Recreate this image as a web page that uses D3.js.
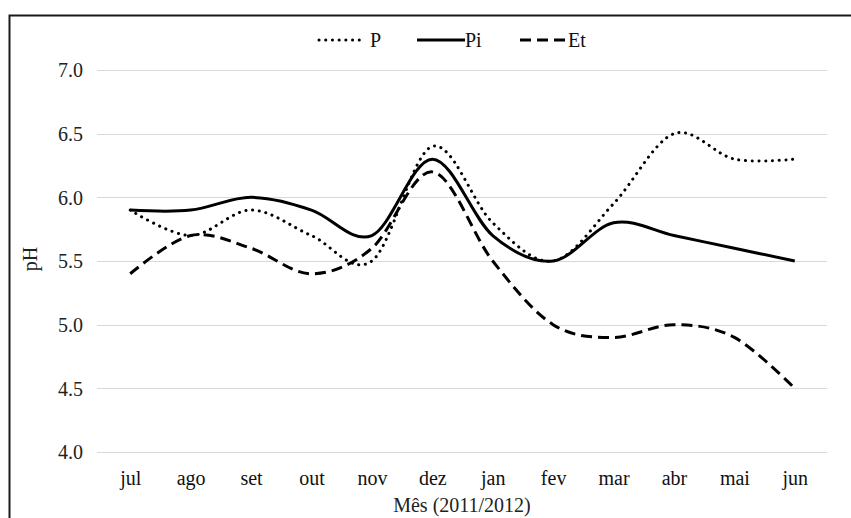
<!DOCTYPE html>
<html><head><meta charset="utf-8">
<script src="https://cdn.jsdelivr.net/npm/d3@7"></script>
<style>body{margin:0;background:#fff}svg{display:block}
svg text{font-family:"Liberation Serif","Times New Roman","DejaVu Serif",serif;}</style>
</head><body>
<svg id="c" width="851" height="518"></svg>
<script>
const months = ["jul","ago","set","out","nov","dez","jan","fev","mar","abr","mai","jun"];
const P  = [5.9, 5.7, 5.9, 5.7, 5.5, 6.4, 5.8, 5.5, 5.95, 6.5, 6.3, 6.3];
const Pi = [5.9, 5.9, 6.0, 5.9, 5.7, 6.3, 5.7, 5.5, 5.8, 5.7, 5.6, 5.5];
const Et = [5.4, 5.7, 5.6, 5.4, 5.6, 6.2, 5.5, 5.0, 4.9, 5.0, 4.9, 4.5];
const yTicks = [4.0, 4.5, 5.0, 5.5, 6.0, 6.5, 7.0];
const seriesNames = ["P", "Pi", "Et"];

const svg = d3.select("#c");
const font = '"Liberation Serif","Times New Roman","DejaVu Serif",serif';
const fs = 20;
const m = {left: 100, right: 825, top: 70, bottom: 452};

// frame
svg.append("path").attr("d", "M9.5,520 L9.5,15.5 L860,15.5")
  .attr("fill","none").attr("stroke","#1a1a1a").attr("stroke-width",2);

const x = d3.scalePoint().domain(months).range([m.left, m.right]).padding(0.5);
const y = d3.scaleLinear().domain([4, 7]).range([m.bottom, m.top]);

// gridlines
svg.append("g").selectAll("line").data(yTicks).join("line")
  .attr("x1", 97).attr("x2", 827)
  .attr("y1", d => Math.round(y(d)) + 0.5).attr("y2", d => Math.round(y(d)) + 0.5)
  .attr("stroke", "#d9d9d9").attr("stroke-width", 1);

// y axis labels
const yAxis = d3.axisLeft(y).tickValues(yTicks).tickFormat(d3.format(".1f")).tickSize(0).tickPadding(0);
const gy = svg.append("g").attr("transform", "translate(83,0)").call(yAxis);
gy.attr("font-family", null).attr("font-size", null);
gy.select(".domain").remove();
gy.selectAll("text").style("font-family", font).style("font-size", fs + "px").attr("fill", "#222").attr("dy", "0.34em");

// x axis labels
const xAxis = d3.axisBottom(x).tickSize(0).tickPadding(0);
const gx = svg.append("g").attr("transform", "translate(0,485)").call(xAxis);
gx.attr("font-family", null).attr("font-size", null);
gx.select(".domain").remove();
gx.selectAll("text").style("font-family", font).style("font-size", fs + "px").attr("fill", "#111").attr("dy", 0);

// axis titles
svg.append("text").attr("x", 462).attr("y", 512).attr("text-anchor","middle")
  .style("font-family", font).style("font-size", fs + "px").attr("fill","#222").text("Mês (2011/2012)");
svg.append("text").attr("transform","translate(37,259) rotate(-90)").attr("text-anchor","middle")
  .style("font-family", font).style("font-size", fs + "px").attr("fill","#222").text("pH");

// lines
const line = d3.line().x((d,i) => x(months[i])).y(d => y(d)).curve(d3.curveCatmullRom.alpha(0));
const styles = {
  P:  {dash: "0.1,6.6", cap: "round", w: 3},
  Pi: {dash: null, cap: "butt", w: 3},
  Et: {dash: "11,6", cap: "butt", w: 3}
};
const dataMap = {P, Pi, Et};
seriesNames.forEach(n => {
  const s = styles[n];
  svg.append("path").datum(dataMap[n]).attr("d", line)
    .attr("fill","none").attr("stroke","#000").attr("stroke-width", s.w)
    .attr("stroke-linecap", s.cap).attr("stroke-linejoin","round")
    .attr("stroke-dasharray", s.dash);
});

// legend
const leg = [
  {n:"P", x1:319, x2:363, tx:370},
  {n:"Pi", x1:417, x2:465, tx:465},
  {n:"Et", x1:520, x2:568, tx:568}
];
leg.forEach(l => {
  const s = styles[l.n];
  svg.append("line").attr("x1", l.x1).attr("x2", l.x2).attr("y1", 40).attr("y2", 40)
    .attr("stroke","#000").attr("stroke-width", s.w).attr("stroke-linecap", s.cap)
    .attr("stroke-dasharray", s.dash);
  svg.append("text").attr("x", l.tx).attr("y", 47)
    .style("font-family", font).style("font-size", fs + "px").attr("fill","#111").text(l.n);
});
</script>
</body></html>
